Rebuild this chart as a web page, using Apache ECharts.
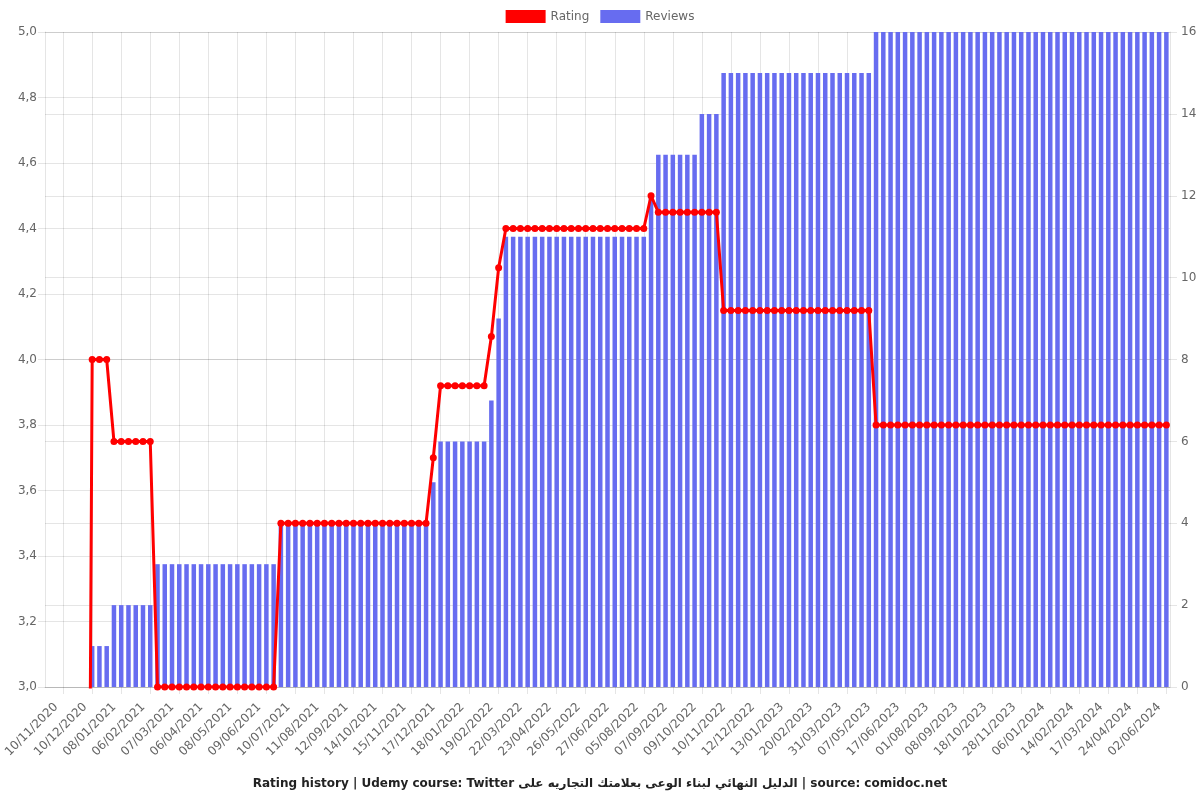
<!DOCTYPE html>
<html>
<head>
<meta charset="utf-8">
<script src="https://cdn.jsdelivr.net/npm/echarts@6/dist/echarts.min.js"></script>
<style>
  html, body { margin: 0; padding: 0; background: #fff; }
  #chart { width: 1200px; height: 800px; }
</style>
</head>
<body>
<div id="chart"></div>
<script>
// Visible tick labels (every 4th category, starting at category index 2)
const tickLabels = [
  '10/11/2020','10/12/2020','08/01/2021','06/02/2021','07/03/2021','06/04/2021',
  '08/05/2021','09/06/2021','10/07/2021','11/08/2021','12/09/2021','14/10/2021',
  '15/11/2021','17/12/2021','18/01/2022','19/02/2022','22/03/2022','23/04/2022',
  '26/05/2022','27/06/2022','05/08/2022','07/09/2022','09/10/2022','10/11/2022',
  '12/12/2022','13/01/2023','20/02/2023','31/03/2023','07/05/2023','17/06/2023',
  '01/08/2023','08/09/2023','18/10/2023','28/11/2023','06/01/2024','14/02/2024',
  '17/03/2024','24/04/2024','02/06/2024'
];

// Rating per snapshot (155 snapshots)
const rating = [
  0,0,0,0,0,0,
  4.0,4.0,4.0,
  3.75,3.75,3.75,3.75,3.75,3.75,
  3.0,3.0,3.0,3.0,3.0,3.0,3.0,3.0,3.0,3.0,3.0,3.0,3.0,3.0,3.0,3.0,3.0,
  3.5,3.5,3.5,3.5,3.5,3.5,3.5,3.5,3.5,3.5,3.5,3.5,3.5,3.5,3.5,3.5,3.5,3.5,3.5,3.5,3.5,
  3.7,
  3.92,3.92,3.92,3.92,3.92,3.92,3.92,
  4.07,
  4.28,
  4.4,4.4,4.4,4.4,4.4,4.4,4.4,4.4,4.4,4.4,4.4,4.4,4.4,4.4,4.4,4.4,4.4,4.4,4.4,4.4,
  4.5,
  4.45,4.45,4.45,4.45,4.45,4.45,4.45,4.45,4.45,
  4.15,4.15,4.15,4.15,4.15,4.15,4.15,4.15,4.15,4.15,4.15,4.15,4.15,4.15,4.15,4.15,4.15,4.15,4.15,4.15,4.15,
  3.8,3.8,3.8,3.8,3.8,3.8,3.8,3.8,3.8,3.8,3.8,3.8,3.8,3.8,3.8,3.8,3.8,3.8,3.8,3.8,
  3.8,3.8,3.8,3.8,3.8,3.8,3.8,3.8,3.8,3.8,3.8,3.8,3.8,3.8,3.8,3.8,3.8,3.8,3.8,3.8,3.8
];

// Number of reviews per snapshot
const reviews = [
  0,0,0,0,0,0,
  1,1,1,
  2,2,2,2,2,2,
  3,3,3,3,3,3,3,3,3,3,3,3,3,3,3,3,3,
  4,4,4,4,4,4,4,4,4,4,4,4,4,4,4,4,4,4,4,4,4,
  5,
  6,6,6,6,6,6,6,
  7,
  9,
  11,11,11,11,11,11,11,11,11,11,11,11,11,11,11,11,11,11,11,11,
  12,
  13,13,13,13,13,13,
  14,14,14,
  15,15,15,15,15,15,15,15,15,15,15,15,15,15,15,15,15,15,15,15,15,
  16,16,16,16,16,16,16,16,16,16,16,16,16,16,16,16,16,16,16,16,
  16,16,16,16,16,16,16,16,16,16,16,16,16,16,16,16,16,16,16,16,16
];

const titleText = 'Rating history | Udemy course: Twitter الدليل النهائي لبناء الوعى بعلامتك التجاريه على | source: comidoc.net';

// Build the category list: labelled snapshots at index 2 + 4k
const categories = rating.map(function (_, i) {
  return (i % 4 === 2) ? (tickLabels[(i - 2) / 4] || '') : '';
});
const isLabelled = function (i) { return i % 4 === 2; };

const gridColor = 'rgba(0,0,0,0.1)';
const font = 'DejaVu Sans';

const chart = echarts.init(document.getElementById('chart'), null, { renderer: 'canvas' });
chart.setOption({
  animation: false,
  backgroundColor: '#fff',
  textStyle: { fontFamily: font },
  title: {
    text: titleText,
    left: 'center',
    top: 778,
    padding: 0,
    textStyle: { fontFamily: font, fontSize: 12, fontWeight: 'bold', color: '#222' }
  },
  legend: {
    top: 5,
    left: 'center',
    icon: 'rect',
    itemWidth: 40,
    itemHeight: 13,
    itemGap: 11,
    textStyle: { fontFamily: font, fontSize: 12, color: '#666' },
    data: ['Rating', 'Reviews']
  },
  grid: { left: 45, right: 30, top: 32, bottom: 113, containLabel: false },
  xAxis: {
    type: 'category',
    data: categories,
    boundaryGap: true,
    axisLine: { show: true, lineStyle: { color: gridColor } },
    axisTick: { show: true, alignWithLabel: true, interval: isLabelled, length: 7, lineStyle: { color: gridColor } },
    axisLabel: { interval: isLabelled, rotate: 45, color: '#666', fontSize: 12, fontFamily: font,
      margin: 11, padding: [0, 10, 0, 0] },
    splitLine: { show: true, interval: isLabelled, alignWithLabel: true, lineStyle: { color: gridColor } }
  },
  yAxis: [
    {
      type: 'value', min: 3, max: 5, interval: 0.2, position: 'left',
      axisLine: { show: true, lineStyle: { color: gridColor } },
      axisTick: { show: true, length: 7, lineStyle: { color: gridColor } },
      axisLabel: { color: '#666', fontSize: 12, fontFamily: font, margin: 8,
        formatter: function (v) { return v.toFixed(1).replace('.', ','); } },
      splitLine: { show: true, lineStyle: { color: gridColor } }
    },
    {
      type: 'value', min: 0, max: 16, interval: 2, position: 'right',
      axisLine: { show: true, lineStyle: { color: gridColor } },
      axisTick: { show: true, length: 7, lineStyle: { color: gridColor } },
      axisLabel: { color: '#666', fontSize: 12, fontFamily: font, margin: 11 },
      splitLine: { show: true, lineStyle: { color: gridColor } }
    }
  ],
  series: [
    {
      name: 'Rating',
      type: 'line',
      yAxisIndex: 0,
      data: rating,
      z: 4,
      symbol: 'circle',
      symbolSize: 7,
      showAllSymbol: true,
      clip: true,
      lineStyle: { color: '#ff0000', width: 3 },
      itemStyle: { color: '#ff0000' }
    },
    {
      name: 'Reviews',
      type: 'bar',
      yAxisIndex: 1,
      data: reviews,
      z: 2,
      barWidth: '62%',
      itemStyle: { color: '#676cf0' }
    }
  ]
});
</script>
</body>
</html>
